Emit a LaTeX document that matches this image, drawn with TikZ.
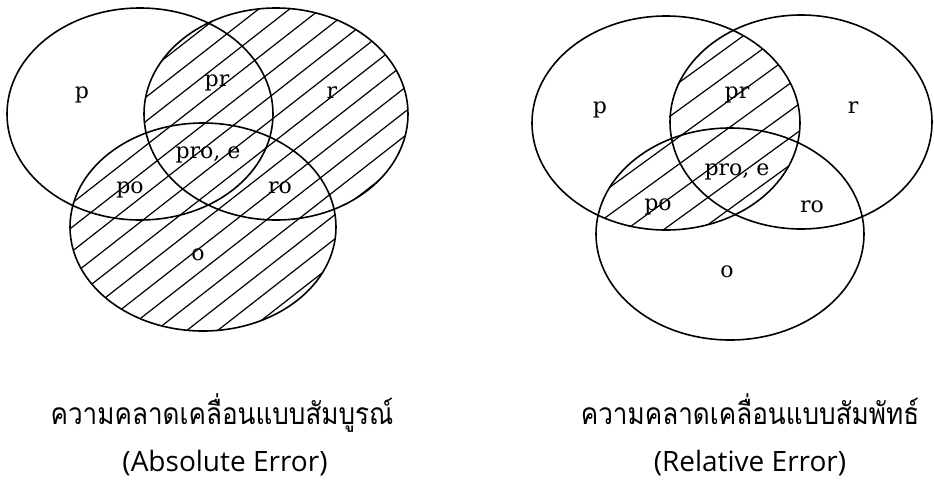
\documentclass[tikz,border=0pt]{standalone}
\usepackage{fontspec}
\setmainfont{DejaVu Serif}
\newfontfamily\thaifont[Script=Thai]{Loma}
\newfontfamily\capfont{Open Sans}
\newcommand{\thaiscaled}[1]{\scalebox{0.87}[1]{#1}}
\begin{document}
\begin{tikzpicture}[x=1pt,y=1pt,
  setline/.style={line width=1.6pt, black},
  hatchline/.style={line width=1.2pt, black},
  lbl/.style={font=\fontsize{22}{22}\selectfont, inner sep=0pt},
  thaicap/.style={font=\thaifont\fontsize{30}{30}\selectfont, inner sep=0pt, anchor=base},
  engcap/.style={font=\capfont\fontsize{28}{28}\selectfont, inner sep=0pt, anchor=base}]
\useasboundingbox (0,0) rectangle (934,-491);

% ---------- left: Absolute Error (hatch R union O) ----------
\begin{scope}
  \clip (276,-114) ellipse [x radius=132, y radius=106]
        (203,-227) ellipse [x radius=133, y radius=104];
  \foreach \k in {-20,...,20}
    \draw[hatchline, rotate around={38:(207,-170)}]
      ({207-400},{-170+\k*19}) -- ({207+400},{-170+\k*19});
\end{scope}
\draw[setline] (140,-114) ellipse [x radius=133, y radius=106];
\draw[setline] (276,-114) ellipse [x radius=132, y radius=106];
\draw[setline] (203,-227) ellipse [x radius=133, y radius=104];

\node[lbl] (lp)   at (82,-95)   {p};
\node[lbl] (lpr)  at (217,-83)  {pr};
\node[lbl] (lr)   at (332,-93)  {r};
\node[lbl] (lpro) at (208,-155) {pro, e};
\node[lbl] (lpo)  at (130,-190) {po};
\node[lbl] (lro)  at (280,-188) {ro};
\node[lbl] (lo)   at (198,-255) {o};

% ---------- right: Relative Error (hatch P and (R union O)) ----------
\begin{scope}
  \clip (666,-123) ellipse [x radius=134, y radius=107];
  \clip (801,-122) ellipse [x radius=132, y radius=107]
        (730,-234) ellipse [x radius=134, y radius=106];
  \foreach \k in {-16,...,16}
    \draw[hatchline, rotate around={36:(732,-180)}]
      ({732-400},{-180+\k*22}) -- ({732+400},{-180+\k*22});
\end{scope}
\draw[setline] (666,-123) ellipse [x radius=134, y radius=107];
\draw[setline] (801,-122) ellipse [x radius=131, y radius=107];
\draw[setline] (730,-234) ellipse [x radius=134, y radius=106];

\node[lbl] (rp)   at (600,-110) {p};
\node[lbl] (rpr)  at (737,-95)  {pr};
\node[lbl] (rr)   at (853,-108) {r};
\node[lbl] (rpro) at (737,-172) {pro, e};
\node[lbl] (rpo)  at (658,-207) {po};
\node[lbl] (rro)  at (812,-207) {ro};
\node[lbl] (ro)   at (727,-272) {o};

% ---------- captions ----------
\node[thaicap] (lcap1) at (222,-424) {\thaiscaled{ความคลาดเคลื่อนแบบสัมบูรณ์}};
\node[engcap]  (lcap2) at (225,-471) {(Absolute Error)};
\node[thaicap] (rcap1) at (750,-424) {\thaiscaled{ความคลาดเคลื่อนแบบสัมพัทธ์}};
\node[engcap]  (rcap2) at (750,-471) {(Relative Error)};
\end{tikzpicture}
\end{document}
